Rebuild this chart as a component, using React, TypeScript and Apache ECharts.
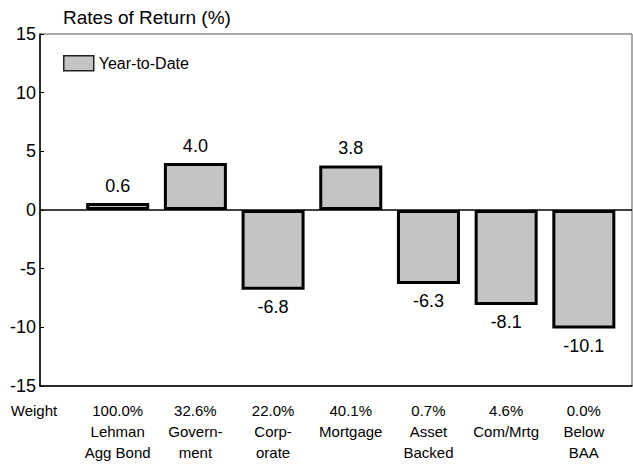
import React, { useEffect, useRef } from "react";
import * as echarts from "echarts";

const weights = ["100.0%", "32.6%", "22.0%", "40.1%", "0.7%", "4.6%", "0.0%"];
const sectors = [
  "Lehman\nAgg Bond",
  "Govern-\nment",
  "Corp-\norate",
  "Mortgage",
  "Asset\nBacked",
  "Com/Mrtg",
  "Below\nBAA",
];
const ytdReturns = [0.6, 4.0, -6.8, 3.8, -6.3, -8.1, -10.1];
const yTicks = { min: -15, max: 15, interval: 5 };

const FONT = "'Liberation Sans Narrow', 'Arial Narrow', 'Liberation Sans', Arial, sans-serif";

export default function App() {
  const ref = useRef<HTMLDivElement>(null);
  useEffect(() => {
    if (!ref.current) return;
    const chart = echarts.init(ref.current, undefined, { renderer: "svg" });
    chart.setOption({
      animation: false,
      backgroundColor: "#ffffff",
      textStyle: { fontFamily: FONT, color: "#000" },
      title: {
        text: "Rates of Return (%)",
        left: 58,
        top: 3,
        textStyle: { fontFamily: FONT, fontSize: 19, fontWeight: "normal", color: "#000" },
      },
      legend: {
        left: 63,
        top: 55,
        padding: 0,
        icon: "rect",
        itemWidth: 30,
        itemHeight: 15,
        itemGap: 8,
        textStyle: { fontFamily: FONT, fontSize: 16, color: "#000" },
        itemStyle: { borderWidth: 1.5, borderColor: "#222" },
        data: ["Year-to-Date"],
      },
      grid: {
        left: 40,
        right: 1,
        top: 34,
        bottom: 80,
        show: true,
        borderColor: "#555",
        borderWidth: 1,
        backgroundColor: "transparent",
      },
      xAxis: {
        type: "value",
        min: 0,
        max: 7.62,
        interval: 1,
        splitLine: { show: false },
        axisTick: { show: false },
        axisLine: { show: true, onZero: false, lineStyle: { color: "#000", width: 1.5 } },
        axisLabel: {
          margin: 14,
          lineHeight: 21,
          fontFamily: FONT,
          fontSize: 15,
          color: "#000",
          verticalAlign: "top",
          showMaxLabel: false,
          formatter: (v: number) => {
            if (Math.abs(v - Math.round(v)) > 1e-6) return "";
            const i = Math.round(v);
            if (i === 0) return "{w|Weight}";
            if (i > weights.length) return "";
            return weights[i - 1] + "\n" + sectors[i - 1];
          },
          rich: {
            w: { fontFamily: FONT, fontSize: 15, color: "#000", padding: [0, 12, 0, 0], lineHeight: 21 },
          },
        },
      },
      yAxis: {
        type: "value",
        min: yTicks.min,
        max: yTicks.max,
        interval: yTicks.interval,
        splitLine: { show: false },
        axisLine: { show: true, onZero: false, lineStyle: { color: "#000", width: 1.5 } },
        axisTick: { show: true, inside: true, length: 4, lineStyle: { color: "#000" } },
        axisLabel: { fontFamily: FONT, fontSize: 18, color: "#000", margin: 4 },
      },
      series: [
        {
          name: "Year-to-Date",
          type: "bar",
          barWidth: 63,
          data: ytdReturns.map((v, i) => ({
            value: [i + 1, v],
            label: { position: v < 0 ? "bottom" : "top" },
          })),
          itemStyle: { color: "#c4c4c4", borderColor: "#000", borderWidth: 3 },
          label: {
            show: true,
            distance: 8,
            fontFamily: FONT,
            fontSize: 18,
            color: "#000",
            formatter: (p: any) => p.value[1].toFixed(1),
          },
          markLine: {
            silent: true,
            symbol: "none",
            label: { show: false },
            lineStyle: { color: "#000", width: 1.5, type: "solid" },
            data: [{ yAxis: 0 }],
          },
        },
      ],
    });
    return () => chart.dispose();
  }, []);
  return (
    <div
      ref={ref}
      style={{ position: "fixed", left: 0, top: 0, width: 633, height: 466 }}
    />
  );
}
